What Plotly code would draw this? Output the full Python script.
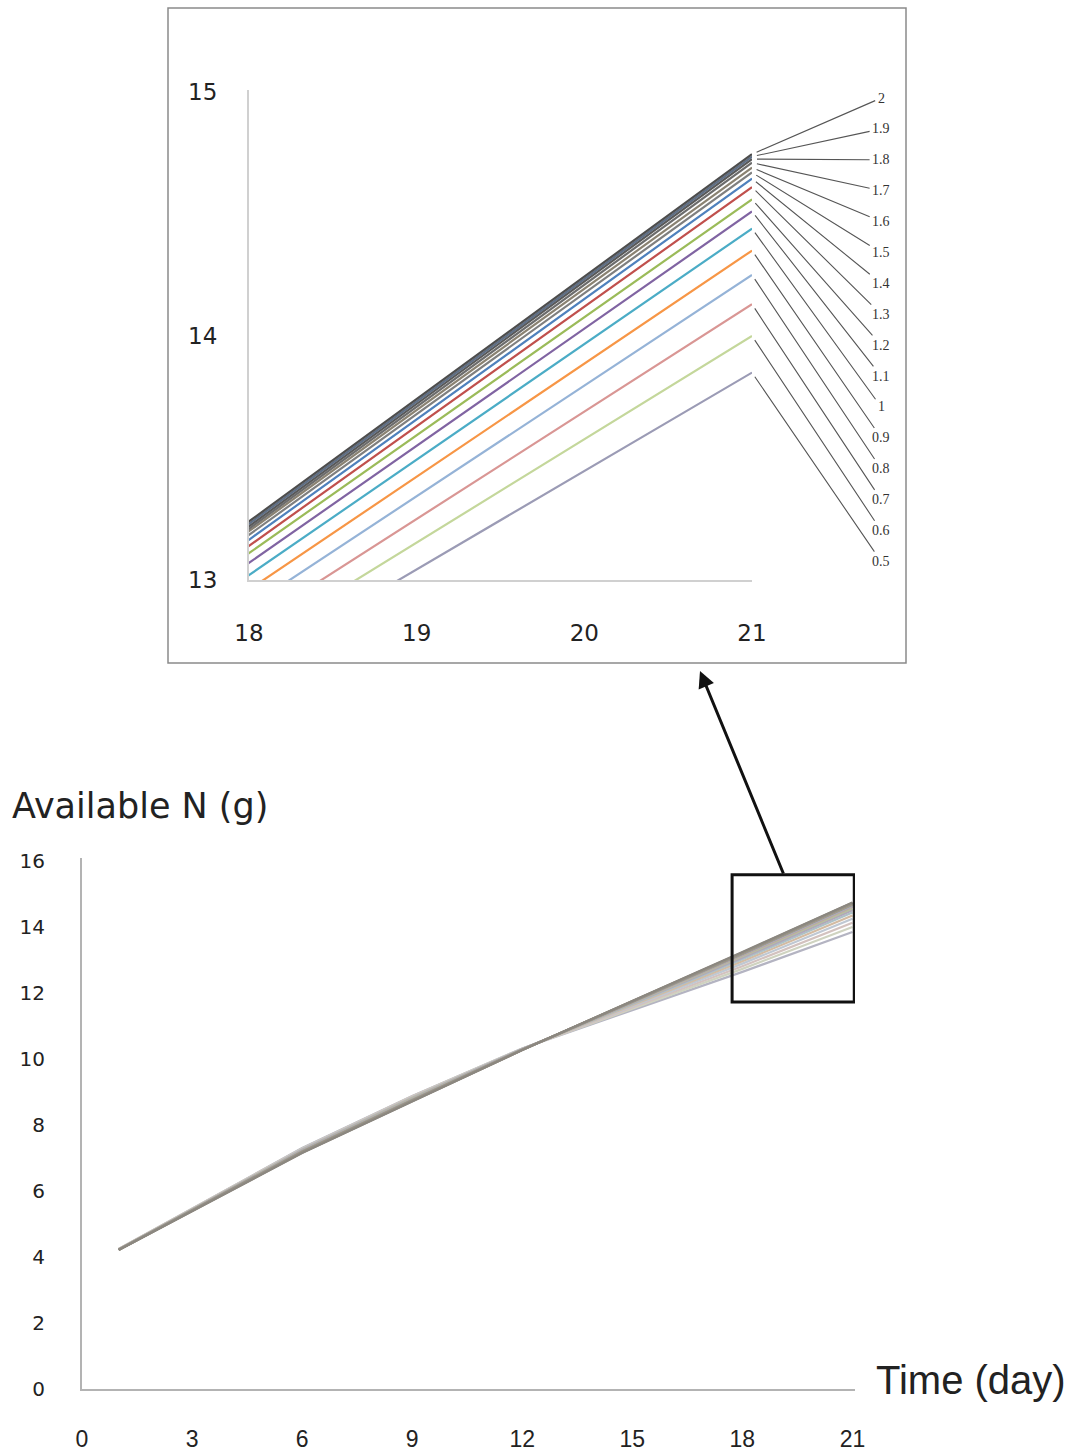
import plotly.graph_objects as go

# ---------------- data ----------------
days = [1, 3, 6, 9, 12, 15, 18, 21]
series_labels = ["0.5", "0.6", "0.7", "0.8", "0.9", "1", "1.1", "1.2",
                 "1.3", "1.4", "1.5", "1.6", "1.7", "1.8", "1.9", "2"]

s_05 = [4.24, 5.46, 7.30, 8.88, 10.32, 11.48, 12.64, 13.85]
s_06 = [4.24, 5.45, 7.29, 8.87, 10.32, 11.52, 12.73, 14.00]
s_07 = [4.24, 5.45, 7.28, 8.86, 10.31, 11.56, 12.81, 14.13]
s_08 = [4.23, 5.44, 7.27, 8.85, 10.31, 11.60, 12.89, 14.25]
s_09 = [4.23, 5.44, 7.26, 8.83, 10.30, 11.63, 12.96, 14.35]
s_10 = [4.23, 5.43, 7.25, 8.82, 10.30, 11.66, 13.02, 14.44]
s_11 = [4.23, 5.43, 7.24, 8.81, 10.30, 11.68, 13.07, 14.51]
s_12 = [4.23, 5.42, 7.23, 8.80, 10.29, 11.70, 13.11, 14.56]
s_13 = [4.22, 5.42, 7.22, 8.78, 10.29, 11.71, 13.14, 14.61]
s_14 = [4.22, 5.41, 7.21, 8.77, 10.29, 11.72, 13.165, 14.645]
s_15 = [4.22, 5.41, 7.20, 8.76, 10.28, 11.73, 13.185, 14.67]
s_16 = [4.22, 5.40, 7.19, 8.75, 10.28, 11.74, 13.20, 14.69]
s_17 = [4.22, 5.40, 7.18, 8.74, 10.28, 11.745, 13.21, 14.71]
s_18 = [4.22, 5.39, 7.17, 8.73, 10.27, 11.75, 13.22, 14.725]
s_19 = [4.21, 5.39, 7.16, 8.72, 10.27, 11.755, 13.23, 14.735]
s_20 = [4.21, 5.38, 7.15, 8.71, 10.27, 11.76, 13.24, 14.745]

series_values = [s_05, s_06, s_07, s_08, s_09, s_10, s_11, s_12,
                 s_13, s_14, s_15, s_16, s_17, s_18, s_19, s_20]

inset_colors = ["#9b9bb5", "#c4d79b", "#d99694", "#95b3d7", "#f79646", "#4bacc6",
                "#8064a2", "#9bbb59", "#c0504d", "#4f81bd", "#7f7f7f", "#8a8272",
                "#6c6c6c", "#595959", "#5f6f86", "#4d4d4d"]
main_colors = ["#b4b4c2", "#cfd3c0", "#d3c2bf", "#bfc8d3", "#d3bba2", "#adc1c7",
               "#b0a7ba", "#b6bf9f", "#bea4a0", "#a7b0bf", "#98938a", "#a89f8e",
               "#9a9485", "#8d8d8d", "#a09987", "#8b8780"]

main_xticks = [0, 3, 6, 9, 12, 15, 18, 21]
main_yticks = [0, 2, 4, 6, 8, 10, 12, 14, 16]
inset_xticks = [18, 19, 20, 21]
inset_yticks = [13, 14, 15]

# ---------------- figure ----------------
W, H = 1075, 1456
fig = go.Figure()

for lab, vals, col in zip(series_labels, series_values, main_colors):
    fig.add_trace(go.Scatter(x=days, y=vals, mode="lines", name=lab,
                             line=dict(color=col, width=2.2),
                             xaxis="x", yaxis="y", showlegend=False))

for lab, vals, col in zip(series_labels, series_values, inset_colors):
    fig.add_trace(go.Scatter(x=days, y=vals, mode="lines", name=lab,
                             line=dict(color=col, width=2.2),
                             xaxis="x2", yaxis="y2", showlegend=False,
                             cliponaxis=True))

def px_x(p):
    return p / W

def px_y(p):
    return (H - p) / H

tick_font_main_y = dict(family="DejaVu Sans", size=20, color="#222")
tick_font_main_x = dict(family="Liberation Sans Narrow, Liberation Sans", size=23, color="#222")
tick_font_inset = dict(family="DejaVu Sans", size=23, color="#222")

fig.update_layout(
    width=W, height=H,
    autosize=False,
    margin=dict(l=0, r=0, t=0, b=0, pad=0, autoexpand=False),
    paper_bgcolor="white", plot_bgcolor="rgba(0,0,0,0)",
    xaxis=dict(domain=[px_x(82), px_x(855)], range=[0, 21.07],
               tickvals=main_xticks, ticks="outside", ticklen=28,
               tickcolor="rgba(0,0,0,0)", showgrid=False, zeroline=False,
               showline=True, linecolor="#b3b3b3", linewidth=2,
               tickfont=tick_font_main_x, anchor="y", automargin=False),
    yaxis=dict(domain=[px_y(1389), px_y(858)], range=[0, 16.09],
               tickvals=main_yticks, ticks="outside", ticklen=31,
               tickcolor="rgba(0,0,0,0)", showgrid=False, zeroline=False,
               showline=True, linecolor="#b3b3b3", linewidth=2,
               tickfont=tick_font_main_y, anchor="x", automargin=False),
    xaxis2=dict(domain=[px_x(249), px_x(752)], range=[18, 21],
                tickvals=inset_xticks, ticks="outside", ticklen=31,
                tickcolor="rgba(0,0,0,0)", showgrid=False, zeroline=False,
                showline=True, linecolor="#d0d0d0", linewidth=2,
                tickfont=tick_font_inset, anchor="y2", automargin=False),
    yaxis2=dict(domain=[px_y(580), px_y(90)], range=[13, 15.008],
                tickvals=inset_yticks, ticks="outside", ticklen=25,
                tickcolor="rgba(0,0,0,0)", showgrid=False, zeroline=False,
                showline=True, linecolor="#d0d0d0", linewidth=2,
                tickfont=tick_font_inset, anchor="x2", automargin=False),
)

shapes = []
# inset frame
shapes.append(dict(type="rect", xref="paper", yref="paper",
                   x0=px_x(168), x1=px_x(906), y0=px_y(663), y1=px_y(8),
                   line=dict(color="#8a8a8a", width=1.5), fillcolor="rgba(0,0,0,0)"))
# zoom box on main chart
shapes.append(dict(type="rect", xref="x", yref="y",
                   x0=17.72, x1=21.05, y0=11.73, y1=15.58,
                   line=dict(color="#111", width=3), fillcolor="rgba(0,0,0,0)"))
fig.update_layout(shapes=shapes)

annotations = []
# axis titles
annotations.append(dict(text="Available N (g)", xref="paper", yref="paper",
                        x=px_x(10), y=px_y(806), xanchor="left", yanchor="middle",
                        showarrow=False,
                        font=dict(family="DejaVu Sans", size=35, color="#222")))
annotations.append(dict(text="Time (day)", xref="paper", yref="paper",
                        x=px_x(874), y=px_y(1380), xanchor="left", yanchor="middle",
                        showarrow=False,
                        font=dict(family="Liberation Sans Narrow, Liberation Sans", size=40, color="#222")))
# arrow from zoom box to inset
annotations.append(dict(text="", xref="paper", yref="paper",
                        x=px_x(700), y=px_y(671), axref="pixel", ayref="pixel",
                        ax=84, ay=204, showarrow=True, arrowhead=2, arrowsize=1.1,
                        arrowwidth=3, arrowcolor="#111"))

# leader labels in inset
label_x = 21.77
label_top = 14.975
label_step = 0.1266
ordered = list(zip(series_labels, series_values))[::-1]  # 2 ... 0.5
for i, (lab, vals) in enumerate(ordered):
    annotations.append(dict(text=lab, xref="x2", yref="y2",
                            x=21, y=vals[-1], axref="x2", ayref="y2",
                            ax=label_x, ay=label_top - i * label_step,
                            showarrow=True, arrowhead=0, arrowwidth=1.1,
                            arrowcolor="#555", standoff=5, startstandoff=1,
                            font=dict(family="Liberation Serif", size=14, color="#333")))
fig.update_layout(annotations=annotations)

fig.write_html("out.html",
               post_script="document.body.style.margin='0';document.body.style.overflow='hidden';")
